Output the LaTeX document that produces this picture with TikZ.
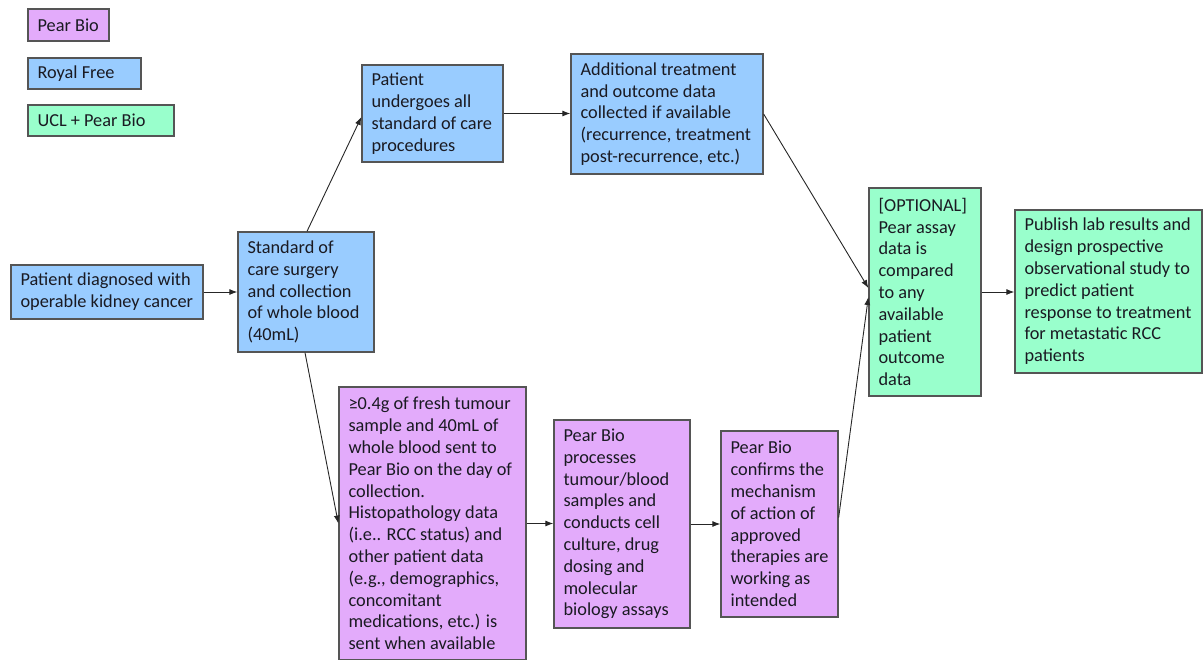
\documentclass[tikz,border=0pt]{standalone}
\usepackage{fontspec}
\setmainfont{Carlito}
\usetikzlibrary{arrows.meta}
\definecolor{pbpink}{HTML}{E3ABFB}
\definecolor{rfblue}{HTML}{99CCFF}
\definecolor{uclgreen}{HTML}{99FFCC}
\definecolor{edgegray}{HTML}{555555}
\definecolor{txt}{HTML}{1A1A22}
\tikzset{
  box/.style={draw=edgegray, line width=1.3pt, inner sep=0pt},
  pbbox/.style={box, fill=pbpink},
  rfbox/.style={box, fill=rfblue},
  uclbox/.style={box, fill=uclgreen},
  lbl/.style={anchor=west, inner sep=0pt, align=left, text=txt,
    font={\fontsize{18.3}{21.8}\selectfont}},
  conn/.style={draw=black!85, line width=0.9pt, -{Latex[length=8pt,width=6pt]}}
}
\newcommand{\mybox}[7]{% style, name, cx, cy, w, h, text
  \node[#1, minimum width=#5pt, minimum height=#6pt] (#2) at (#3,#4) {};
  \node[lbl] (#2t) at ([xshift=10pt]#2.west) {#7};
}
\begin{document}
\begin{tikzpicture}[x=1pt,y=-1pt]
\useasboundingbox (0,0) rectangle (1204,659);
% legend
\mybox{pbbox}{lgA}{68.5}{25}{81}{32}{Pear Bio}
\mybox{rfbox}{lgB}{84.5}{73.5}{113}{31}{Royal Free}
\mybox{uclbox}{lgC}{101}{120.5}{146}{31}{UCL + Pear Bio}
% main flow
\mybox{rfbox}{diag}{107}{292}{192}{54}{Patient diagnosed with\\operable kidney cancer}
\mybox{rfbox}{std}{306}{292}{136}{120}{Standard of\\care surgery\\and collection\\of whole blood\\(40mL)}
\mybox{rfbox}{und}{432.5}{113.5}{141}{97}{Patient\\undergoes all\\standard of care\\procedures}
\mybox{rfbox}{addl}{667}{114}{192}{120}{Additional treatment\\and outcome data\\collected if available\\(recurrence, treatment\\post-recurrence, etc.)}
\mybox{uclbox}{opt}{925}{292}{112}{208}{[OPTIONAL]\\Pear assay\\data is\\compared\\to any\\available\\patient\\outcome\\data}
\mybox{uclbox}{pub}{1108.5}{291.5}{187}{163}{Publish lab results and\\design prospective\\observational study to\\predict patient\\response to treatment\\for metastatic RCC\\patients}
\mybox{pbbox}{samp}{432.5}{523.5}{187}{273}{≥0.4g of fresh tumour\\sample and 40mL of\\whole blood sent to\\Pear Bio on the day of\\collection.\\Histopathology data\\(i.e.. RCC status) and\\other patient data\\(e.g., demographics,\\concomitant\\medications, etc.) is\\sent when available}
\mybox{pbbox}{proc}{622}{524}{136}{208}{Pear Bio\\processes\\tumour/blood\\samples and\\conducts cell\\culture, drug\\dosing and\\molecular\\biology assays}
\mybox{pbbox}{conf}{779.5}{524}{117}{186}{Pear Bio\\confirms the\\mechanism\\of action of\\approved\\therapies are\\working as\\intended}
% connectors
\draw[conn] (diag.east) -- (std.west);
\draw[conn] ([xshift=1pt]std.north) -- ([yshift=-3.5pt]und.west);
\draw[conn] ([xshift=-1pt]std.south) -- (samp.west);
\draw[conn] (und.east) -- (und.east -| addl.west);
\draw[conn] (addl.east) -- ([yshift=4pt]opt.west);
\draw[conn] (samp.east) -- (samp.east -| proc.west);
\draw[conn] (proc.east) -- (proc.east -| conf.west);
\draw[conn] ([yshift=6.5pt]conf.east) -- ([yshift=-5pt]opt.west);
\draw[conn] (opt.east) -- (opt.east -| pub.west);
\end{tikzpicture}
\end{document}
